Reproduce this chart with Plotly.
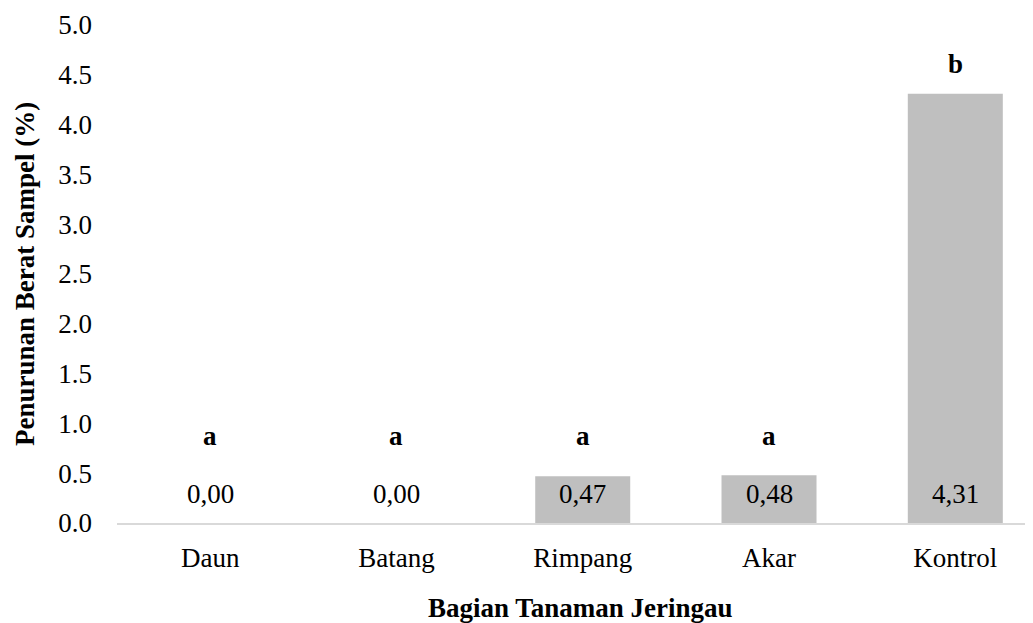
import plotly.graph_objects as go

categories = ["Daun", "Batang", "Rimpang", "Akar", "Kontrol"]
values = [0.00, 0.00, 0.47, 0.48, 4.31]
letters = ["a", "a", "a", "a", "b"]
letter_y = [0.873, 0.873, 0.873, 0.873, 4.61]
value_label_y = 0.29
y_ticks = [0.0, 0.5, 1.0, 1.5, 2.0, 2.5, 3.0, 3.5, 4.0, 4.5, 5.0]

FONT = "Liberation Serif"
FS = 27

fig = go.Figure()
fig.add_trace(go.Bar(
    x=list(range(len(categories))), y=values,
    marker=dict(color="#bfbfbf", line=dict(width=0)),
    width=0.51, hoverinfo="skip",
))

for i, (v, l, ly) in enumerate(zip(values, letters, letter_y)):
    fig.add_annotation(x=i, y=value_label_y, text=f"{v:.2f}".replace(".", ","),
                       showarrow=False, font=dict(family=FONT, size=FS, color="black"))
    fig.add_annotation(x=i, y=ly, text=f"<b>{l}</b>",
                       showarrow=False, font=dict(family=FONT, size=FS, color="black"))

fig.add_annotation(xref="paper", yref="paper", x=-0.0996, y=0.5, xanchor="center", yanchor="middle",
                   text="<b>Penurunan Berat Sampel (%)</b>",
                   textangle=-90, showarrow=False, font=dict(family=FONT, size=FS, color="black"))
fig.add_annotation(xref="paper", yref="paper", x=0.502, y=-0.1707, xanchor="center", yanchor="middle",
                   text="<b>Bagian Tanaman Jeringau</b>",
                   showarrow=False, font=dict(family=FONT, size=FS, color="black"))

fig.update_layout(
    width=1033, height=623,
    margin=dict(l=109, r=0, t=17, b=108, autoexpand=False),
    paper_bgcolor="white", plot_bgcolor="white",
    showlegend=False,
    font=dict(family=FONT, size=FS, color="black"),
)
fig.update_xaxes(
    tickmode="array", tickvals=list(range(len(categories))), ticktext=categories,
    range=[-0.5, 4.46], showgrid=False, zeroline=False,
    showline=True, linecolor="#d9d9d9", linewidth=1.5,
    ticks="", ticklabelstandoff=10, automargin=False,
    tickfont=dict(family=FONT, size=FS, color="black"),
)
fig.update_yaxes(
    range=[0, 5], tickvals=y_ticks, ticktext=[f"{t:.1f}" for t in y_ticks],
    showgrid=False, zeroline=False, showline=False, ticks="",
    ticklabelstandoff=24, automargin=False,
    tickfont=dict(family=FONT, size=FS, color="black"),
)

fig.write_html("out.html")
